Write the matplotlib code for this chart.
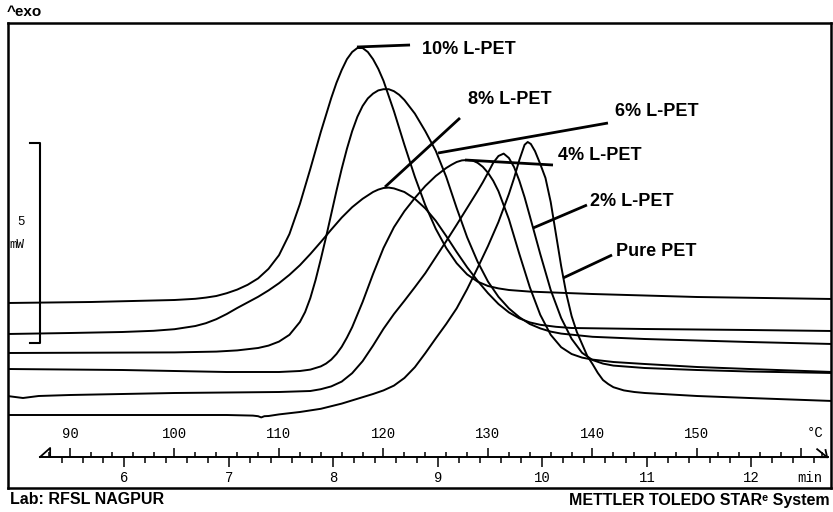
import matplotlib
matplotlib.use("Agg")
import matplotlib.pyplot as plt
from matplotlib.ticker import FixedLocator, FuncFormatter

# DSC crystallisation exotherms, heat flow in mW (arbitrary offset) vs temperature in degC
t_10 = [84, 92, 100, 102, 103, 104, 105, 106, 107, 108, 109, 110, 111, 112, 113, 114, 115, 115.5, 116,
        116.5, 117, 117.5, 118, 118.5, 119, 119.5, 120, 121, 122, 123, 124, 125, 126, 127, 128, 129,
        130, 131, 132, 134, 137, 140, 150, 163]
hf_10 = [2.825, 2.85, 2.9, 2.93, 2.96, 3.0, 3.07, 3.16, 3.28, 3.44, 3.68, 4.02, 4.55, 5.3, 6.18, 7.1,
         7.95, 8.33, 8.65, 8.92, 9.1, 9.2, 9.2, 9.1, 8.92, 8.68, 8.38, 7.62, 6.78, 5.98, 5.27, 4.68, 4.2,
         3.82, 3.54, 3.36, 3.25, 3.19, 3.15, 3.11, 3.08, 3.05, 2.975, 2.925]

t_8 = [84, 90, 95, 98, 100, 102, 103, 104, 105, 106, 107, 108, 109, 110, 111, 112, 113, 114, 115, 116,
       117, 118, 119, 119.5, 120, 120.5, 121, 122, 123, 124, 125, 126, 127, 128, 129, 130, 131, 132,
       133, 134, 135, 136.5, 138, 145, 155, 163]
hf_8 = [2.05, 2.075, 2.1, 2.13, 2.17, 2.25, 2.32, 2.42, 2.55, 2.7, 2.84, 2.98, 3.14, 3.32, 3.53, 3.77,
        4.05, 4.35, 4.66, 4.96, 5.22, 5.43, 5.6, 5.66, 5.7, 5.71, 5.69, 5.6, 5.43, 5.19, 4.88, 4.5, 4.1,
        3.72, 3.38, 3.07, 2.8, 2.59, 2.44, 2.34, 2.28, 2.23, 2.2, 2.175, 2.15, 2.125]

t_6 = [84, 100, 104, 106, 108, 109, 110, 111, 112, 112.5, 113, 113.5, 114, 114.5, 115, 115.5, 116,
       116.5, 117, 117.5, 118, 118.5, 119, 119.5, 120, 120.5, 121, 121.5, 122, 123, 124, 125, 126, 127,
       128, 129, 130, 131, 132, 133, 134, 135, 136, 137, 140, 145, 155, 163]
hf_6 = [1.575, 1.59, 1.61, 1.64, 1.7, 1.76, 1.86, 2.03, 2.35, 2.6, 2.95, 3.4, 3.92, 4.47, 5.05, 5.63,
        6.18, 6.68, 7.12, 7.48, 7.75, 7.94, 8.06, 8.14, 8.17, 8.17, 8.12, 8.03, 7.9, 7.56, 7.12, 6.63,
        5.98, 5.2, 4.47, 3.86, 3.36, 2.98, 2.69, 2.47, 2.3, 2.19, 2.11, 2.06, 1.98, 1.925, 1.85, 1.8]

t_4 = [84, 95, 100, 105, 110, 112, 113, 114, 114.5, 115, 115.5, 116, 116.5, 117, 118, 119, 120, 121,
       122, 123, 124, 125, 126, 126.5, 127, 127.5, 128, 128.5, 129, 129.5, 130, 130.5, 131, 132, 133,
       134, 135, 136, 137, 138, 139, 140, 142, 145, 150, 155, 163]
hf_4 = [1.175, 1.15, 1.125, 1.1, 1.1, 1.125, 1.16, 1.24, 1.31, 1.41, 1.55, 1.73, 1.96, 2.22, 2.85, 3.55,
        4.2, 4.72, 5.12, 5.45, 5.75, 6.0, 6.2, 6.28, 6.35, 6.39, 6.4, 6.39, 6.33, 6.23, 6.08, 5.88, 5.62,
        4.92, 4.05, 3.22, 2.53, 2.03, 1.72, 1.55, 1.46, 1.41, 1.35, 1.3, 1.225, 1.175, 1.1]

t_2 = [84, 85.5, 87, 90, 100, 110, 113, 114, 115, 116, 117, 118, 119, 120, 121, 122, 123, 124, 125,
       126, 127, 128, 129, 129.5, 130, 130.5, 131, 131.5, 132, 132.5, 133, 133.5, 134, 135, 136, 137,
       138, 139, 140, 141, 142, 145, 150, 155, 163]
hf_2 = [0.5, 0.45, 0.5, 0.525, 0.575, 0.6, 0.625, 0.67, 0.74, 0.86, 1.07, 1.37, 1.76, 2.18, 2.55, 2.88,
        3.22, 3.57, 3.97, 4.37, 4.78, 5.2, 5.62, 5.84, 6.08, 6.33, 6.5, 6.56, 6.45, 6.22, 5.88, 5.47,
        5.0, 4.05, 3.15, 2.45, 1.93, 1.58, 1.4, 1.31, 1.26, 1.2, 1.15, 1.1125, 1.075]

t_0 = [84, 105, 107.5, 108, 108.3, 108.6, 109, 110, 112, 114, 116, 118, 119, 120, 121, 122, 123, 124,
       125, 126, 127, 128, 129, 130, 131, 132, 132.5, 133, 133.5, 133.8, 134.1, 134.5, 135, 135.5, 136,
       136.5, 137, 137.5, 138, 138.5, 139, 139.5, 140, 140.5, 141, 141.5, 142, 143, 144, 145, 150, 155,
       163]
hf_0 = [0.025, 0.025, 0.01, -0.005, -0.035, -0.005, 0.0, 0.04, 0.1, 0.18, 0.31, 0.47, 0.55, 0.64, 0.76,
        0.95, 1.22, 1.57, 1.94, 2.3, 2.69, 3.17, 3.7, 4.25, 4.85, 5.55, 5.95, 6.4, 6.78, 6.85, 6.8, 6.62,
        6.3, 5.95, 5.35, 4.55, 3.75, 3.05, 2.5, 2.1, 1.8, 1.5, 1.3, 1.08, 0.9, 0.8, 0.72, 0.64, 0.6,
        0.575, 0.5, 0.45, 0.375]

curves = [(t_10, hf_10), (t_8, hf_8), (t_6, hf_6), (t_4, hf_4), (t_2, hf_2), (t_0, hf_0)]

# labels: text, point on curve, leader end, text anchor (T, mW)
labels = ["10% L-PET", "8% L-PET", "6% L-PET", "4% L-PET", "2% L-PET", "Pure PET"]
lead_from = [(117.46, 9.225), (120.14, 5.725), (125.22, 6.575), (127.8, 6.4), (134.31, 4.7), (137.18, 3.45)]
lead_to = [(122.54, 9.275), (127.32, 7.45), (141.48, 7.325), (136.22, 6.275), (139.47, 5.275), (141.87, 4.025)]
text_at = [(123.68, 9.15), (128.09, 7.9), (142.15, 7.6), (136.7, 6.525), (139.76, 5.35), (142.25, 4.1)]

temp_major = [90, 100, 110, 120, 130, 140, 150, 160]
temp_minor = list(range(88, 163, 2))
min_major = [6, 7, 8, 9, 10, 11, 12]
min_minor = [5.4 + 0.2 * i for i in range(37)]

plt.rcParams["font.family"] = ["Liberation Sans", "DejaVu Sans"]
mono = "Liberation Mono"

fig = plt.figure(figsize=(8.33, 5.12), dpi=100)
W, H = 833, 512
ax = fig.add_axes([8 / W, (H - 488) / H, (831 - 8) / W, (488 - 23) / H])
ax.set_xlim(84.067, 162.823)
ax.set_ylim(-1.8, 9.825)
ax.set_xticks([])
ax.set_yticks([])
for s in ax.spines.values():
    s.set_linewidth(1.8)

for t, hf in curves:
    ax.plot(t, hf, color="black", lw=1.4, solid_joinstyle="round")

for lab, p0, p1, pt in zip(labels, lead_from, lead_to, text_at):
    ax.plot([p0[0], p1[0]], [p0[1], p1[1]], color="black", lw=2.0, solid_capstyle="butt")
    ax.text(pt[0], pt[1], lab, fontsize=13, fontweight="bold", ha="left", va="center")

# 5 mW scale bar
ax.plot([86.17, 87.13, 87.13, 86.17], [6.825, 6.825, 1.825, 1.825], color="black", lw=1.5)
ax.text(85.31, 4.85, "5", family=mono, fontsize=9, ha="center", va="center")
ax.text(84.95, 4.275, "mW", family=mono, fontsize=9, ha="center", va="center")

# temperature / time scale
sc = fig.add_axes([8 / W, (H - 457) / H, (831 - 8) / W, 0.0001])
sc.set_xlim(84.067, 162.823)
sc.patch.set_visible(False)
sc.set_yticks([])
for k in ["left", "right", "bottom"]:
    sc.spines[k].set_visible(False)
sc.spines["top"].set_linewidth(1.4)
sc.spines["top"].set_bounds(87.13, 162.5)
sc.xaxis.tick_top()
sc.xaxis.set_major_locator(FixedLocator(temp_major))
sc.xaxis.set_minor_locator(FixedLocator(temp_minor))
sc.xaxis.set_major_formatter(FuncFormatter(lambda v, p: "" if v > 155 else "%d" % v))
sc.tick_params(axis="x", which="major", direction="out", length=6.5, width=1.1, pad=5,
               labelsize=10, labelfontfamily=mono)
sc.tick_params(axis="x", which="minor", direction="out", length=3.8, width=1.1)

sec = sc.secondary_xaxis("bottom", functions=(lambda T: (T - 35.2) / 10.0, lambda m: 35.2 + 10.0 * m))
sec.spines["bottom"].set_visible(False)
sec.xaxis.set_major_locator(FixedLocator(min_major))
sec.xaxis.set_minor_locator(FixedLocator(min_minor))
sec.xaxis.set_major_formatter(FuncFormatter(lambda v, p: "%d" % round(v)))
sec.tick_params(axis="x", which="major", direction="out", length=7, width=1.1, pad=3,
                labelsize=10, labelfontfamily=mono)
sec.tick_params(axis="x", which="minor", direction="out", length=4, width=1.1)

# start marker and end arrow of the scale line
ax.plot([87.13, 88.1, 88.1], [-1.025, -0.8, -1.025], color="black", lw=1.3)
ax.plot([161.5, 162.45], [-0.83, -1.03], color="black", lw=1.3)
ax.plot([161.85, 162.45, 162.3], [-1.03, -1.03, -0.85], color="black", lw=1.3)
ax.text(161.3, -0.425, "°C", family=mono, fontsize=10, ha="center", va="center")
ax.text(160.8, -1.55, "min", family=mono, fontsize=10, ha="center", va="center")

fig.text(7 / W, 1 - 12 / H, "^exo", fontsize=11, fontweight="bold", ha="left", va="center")
fig.text(10 / W, 1 - 500 / H, "Lab: RFSL NAGPUR", fontsize=11.5, fontweight="bold", ha="left", va="center")
fig.text(830 / W, 1 - 500 / H, "METTLER TOLEDO STAR\u1d49 System", fontsize=11.5, fontweight="bold",
         ha="right", va="center")

fig.savefig("out.png", dpi=100)
